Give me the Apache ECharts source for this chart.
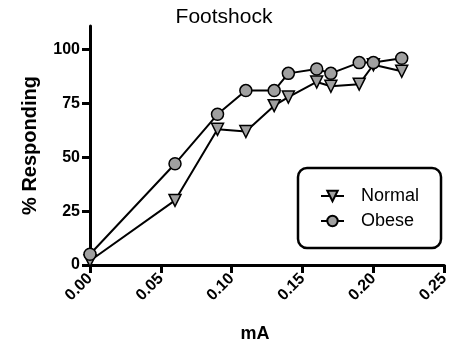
<!DOCTYPE html>
<html><head><meta charset="utf-8">
<script src="https://cdn.jsdelivr.net/npm/echarts@6/dist/echarts.min.js"></script>
<style>html,body{margin:0;padding:0;background:#fff}#c{width:452px;height:351px}</style>
</head><body><div id="c"></div>
<script>
const mA = [0.00, 0.06, 0.09, 0.11, 0.13, 0.14, 0.16, 0.17, 0.19, 0.20, 0.22];
const normal = [2, 30, 63, 62, 74, 78, 85, 83, 84, 93, 90];
const obese = [5, 47, 70, 81, 81, 89, 91, 89, 94, 94, 96];
const xTicks = [0, 0.05, 0.10, 0.15, 0.20, 0.25];
const yTicks = [0, 25, 50, 75, 100];

const font = 'Liberation Sans, Arial, sans-serif';
const chart = echarts.init(document.getElementById('c'), null, {renderer: 'canvas'});
const pts = arr => mA.map((x, i) => [x, arr[i]]);
const markerStyle = {color: '#a0a0a0', borderColor: '#000', borderWidth: 1.5};
chart.setOption({
  animation: false,
  title: {text: 'Footshock', left: 219, top: 2, textAlign: 'center',
    textStyle: {fontFamily: font, fontSize: 21, fontWeight: 'normal', color: '#000'}},
  grid: {left: 90, right: 5, top: 26, bottom: 86, containLabel: false},
  legend: {
    orient: 'vertical', left: 298, top: 168,
    padding: [19, 22, 18, 22], itemGap: 7, itemWidth: 23, itemHeight: 13,
    borderColor: '#000', borderWidth: 2.5, borderRadius: 9,
    textStyle: {fontFamily: font, fontSize: 18, lineHeight: 18, color: '#000', padding: [0, 0, 0, 12]},
    data: ['Normal', 'Obese']
  },
  xAxis: {
    type: 'value', min: 0, max: 0.25, interval: 0.05,
    name: 'mA', nameLocation: 'middle', nameGap: 60,
    nameTextStyle: {fontFamily: font, fontSize: 18, fontWeight: 'bold', color: '#000', padding: [0, 24, 0, 0]},
    axisLine: {lineStyle: {color: '#000', width: 3}},
    axisTick: {length: 8, lineStyle: {color: '#000', width: 3}, customValues: xTicks},
    axisLabel: {rotate: 45, margin: 11, fontFamily: font, fontSize: 16, fontWeight: 'bold', color: '#000',
      padding: [6, 0, 0, 0], customValues: xTicks, formatter: v => v.toFixed(2)},
    splitLine: {show: false}
  },
  yAxis: {
    type: 'value', min: 0, max: 111, interval: 25,
    name: '% Responding', nameLocation: 'middle', nameGap: 50, nameRotate: 90,
    nameTextStyle: {fontFamily: font, fontSize: 20, fontWeight: 'bold', color: '#000'},
    axisLine: {show: true, lineStyle: {color: '#000', width: 3}},
    axisTick: {show: true, length: 8, lineStyle: {color: '#000', width: 3}, customValues: yTicks},
    axisLabel: {margin: 10, fontFamily: font, fontSize: 16, fontWeight: 'bold', color: '#000',
      customValues: yTicks},
    splitLine: {show: false}
  },
  series: [
    {name: 'Normal', type: 'line', data: pts(normal), clip: false,
      symbol: 'triangle', symbolRotate: 180, symbolSize: 12,
      lineStyle: {color: '#000', width: 2}, itemStyle: markerStyle},
    {name: 'Obese', type: 'line', data: pts(obese), clip: false,
      symbol: 'circle', symbolSize: 12,
      lineStyle: {color: '#000', width: 2}, itemStyle: markerStyle}
  ]
});
</script></body></html>
